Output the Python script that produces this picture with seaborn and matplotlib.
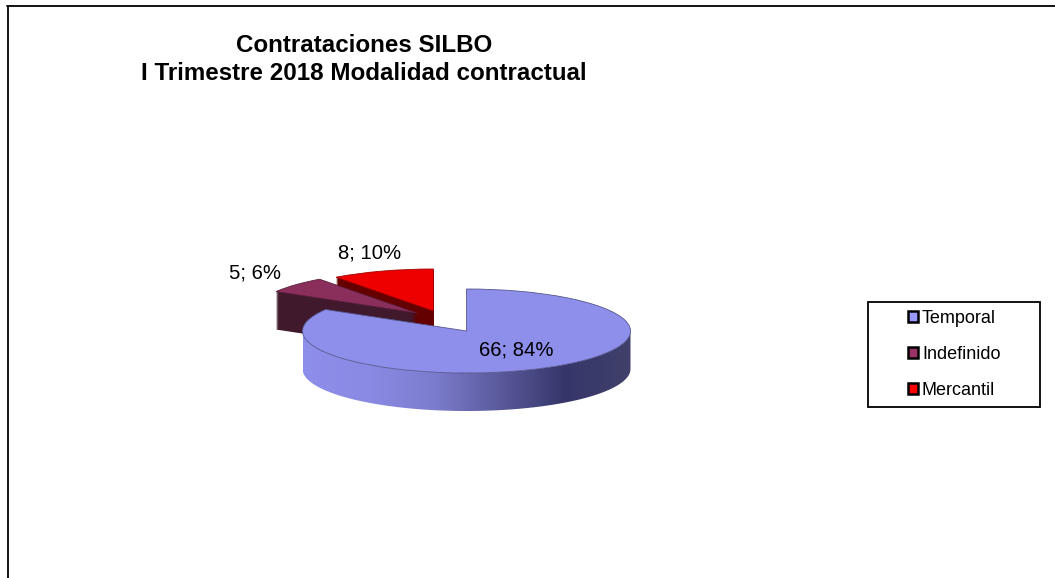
import matplotlib
matplotlib.use("Agg")
import matplotlib.pyplot as plt
import numpy as np
import seaborn as sns
from matplotlib.lines import Line2D
from matplotlib.patches import Patch, Polygon, Rectangle

categories = ["Temporal", "Indefinido", "Mercantil"]
counts = [66, 5, 8]
percents = [84, 6, 10]

W, H = 1055, 578
# pie drawing, in pixels of the picture
CX, CY = 466.5, 331
RX, RY = 164, 42
DEPTH = 38

top_colors = ["#8e8eeb", "#8a2f5c", "#ee0000"]
side_colors = ["#8e8eeb", "#40192c", "#640000"]
legend_colors = ["#9999ff", "#993366", "#ff0000"]
# where each slice has been pulled to (dx, dy in px)
pull = [(0, 0), (-49.5, -18), (-33, -20)]
label_pos = [(516, 350), (255, 273), (370, 253)]

sns.set_theme(style="white")
plt.rcParams['font.family'] = ['Liberation Sans', 'DejaVu Sans']

fig = plt.figure(figsize=(W / 100, H / 100), dpi=100, facecolor="white")
ax = fig.add_axes([0, 0, 1, 1])

zorder = 1

def draw_slice(i, drop, color, edge=None):
    global zorder
    center = (pull[i][0] / RX, -(pull[i][1] + drop) / RY)
    wedges, _ = ax.pie(counts, colors=[color] * 3, startangle=90, counterclock=False,
                       center=center, wedgeprops={'linewidth': 0.6 if edge else 0, 'edgecolor': edge})
    for j, w in enumerate(wedges):
        if j != i:
            w.remove()
        else:
            w.set_zorder(zorder)
    zorder += 1

def draw_depth(i):
    for drop in range(DEPTH, 0, -1):
        draw_slice(i, drop, side_colors[i])

# back slices first, mercantil side is partly covered by indefinido
draw_depth(2)
draw_depth(1)
draw_slice(1, 0, top_colors[1], "#5a1f3c")
draw_slice(2, 0, top_colors[2], "#a00000")

# front wall of the big slice with its shading
shade = sns.blend_palette(["#8e8eeb", "#8a8ae4", "#7c7cce", "#5a5a9c", "#36366a", "#40406a"], 256, as_cmap=True)
zorder += 1
im = ax.imshow(np.linspace(0, 1, 256)[None, :], extent=(-1, 1, -DEPTH / RY - 1, 0), aspect="auto",
               cmap=shade, zorder=zorder, interpolation="bilinear")
t = np.linspace(0, -np.pi, 200)
upper = np.column_stack([np.cos(t), np.sin(t)])
lower = np.column_stack([np.cos(t[::-1]), np.sin(t[::-1]) - DEPTH / RY])
wall = Polygon(np.vstack([upper, lower]), transform=ax.transData)
im.set_clip_path(wall)
zorder += 1
draw_slice(0, 0, top_colors[0], "#55558f")

ax.set_aspect("auto")
ax.set_xlim(-CX / RX, (W - CX) / RX)
ax.set_ylim((CY - H) / RY, CY / RY)
ax.axis("off")

def fx(px):
    return px / W

def fy(py):
    return 1 - py / H

# data labels
for n, p, (x, y) in zip(counts, percents, label_pos):
    fig.text(fx(x), fy(y), f"{n}; {p}%", fontsize=14.6, color="black", ha="center", va="center", zorder=50)

# title
fig.text(fx(364), fy(45.5), "Contrataciones SILBO", fontsize=17.4, fontweight="bold", ha="center", va="center", color="black")
fig.text(fx(364), fy(73.5), "I Trimestre 2018 Modalidad contractual", fontsize=17.4, fontweight="bold", ha="center", va="center", color="black")

# outer chart frame, only left and top are inside the picture
fig.add_artist(Line2D([fx(7.5), fx(7.5)], [fy(6), fy(H)], color="black", lw=1.3))
fig.add_artist(Line2D([fx(7), fx(W)], [fy(6), fy(6)], color="black", lw=1.3))

# legend box
fig.add_artist(Rectangle((fx(868), fy(407)), 172 / W, 105 / H, transform=fig.transFigure,
                         facecolor="white", edgecolor="black", lw=1.3, zorder=20))
handles = [Patch(facecolor=c, edgecolor="black", lw=1.8) for c in legend_colors]
leg = fig.legend(handles, categories, loc="center left", bbox_to_anchor=(fx(908), fy(354.5)), frameon=False,
                 fontsize=13, handlelength=0.55, handleheight=0.55, handletextpad=0.22,
                 labelspacing=1.05, borderpad=0, borderaxespad=0, labelcolor="black")
leg.set_zorder(30)

plt.savefig("out.png", dpi=100)
